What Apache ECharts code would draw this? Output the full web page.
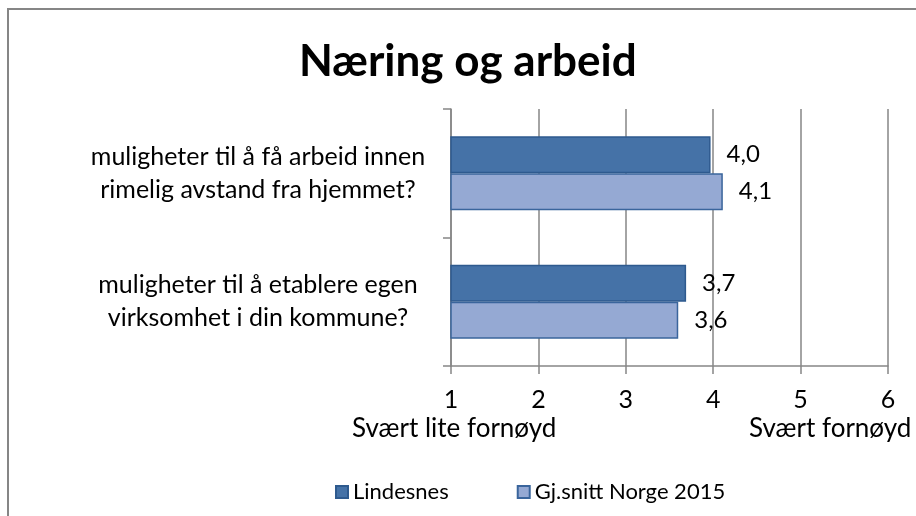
<!DOCTYPE html>
<html>
<head>
<meta charset="utf-8">
<script src="https://cdn.jsdelivr.net/npm/echarts@6/dist/echarts.min.js"></script>
<style>
  html,body{margin:0;padding:0;background:#fff;}
  #chart{width:916px;height:516px;}
</style>
</head>
<body>
<div id="chart"></div>
<script>
const categories=['muligheter til å få arbeid innen\nrimelig avstand fra hjemmet?','muligheter til å etablere egen\nvirksomhet i din kommune?'];
const lindesnes=[3.97,3.69];
const norge=[4.11,3.60];
const seriesNames=['Lindesnes','Gj.snitt Norge 2015'];
const xTicks=[1,2,3,4,5,6];

const FONT='Lato';
const grey='#868686';
const fmt=v=>v.toFixed(1).replace('.',',');

const chart=echarts.init(document.getElementById('chart'));

chart.setOption({
  animation:false,
  textStyle:{fontFamily:FONT,color:'#000'},
  title:{
    text:'Næring og arbeid',
    left:299,
    top:40,
    padding:0,
    textStyle:{fontFamily:FONT,fontWeight:'bold',fontSize:44,color:'#000'}
  },
  legend:{
    data:seriesNames,
    left:335,
    top:481,
    padding:0,
    itemWidth:12,
    itemHeight:12,
    itemGap:68,
    icon:'rect',
    textStyle:{fontFamily:FONT,fontSize:22,color:'#000'}
  },
  grid:{left:451,right:28,top:109,bottom:150},
  xAxis:{
    type:'value',
    min:1,
    max:6,
    interval:1,
    axisLine:{show:true,lineStyle:{color:grey,width:1.5}},
    axisTick:{show:true,length:8,lineStyle:{color:grey,width:1.5}},
    splitLine:{show:true,lineStyle:{color:grey,width:1.5}},
    axisLabel:{fontFamily:FONT,fontSize:25,color:'#000',margin:21,
      formatter:v=>xTicks.includes(v)?String(v):''}
  },
  yAxis:{
    type:'category',
    data:categories,
    inverse:true,
    axisLine:{show:true,lineStyle:{color:grey,width:1.5}},
    axisTick:{show:true,length:8,lineStyle:{color:grey,width:1.5}},
    axisLabel:{fontFamily:FONT,fontSize:25,lineHeight:33,color:'#000',align:'center',margin:193,padding:[4,0,0,0]}
  },
  series:[
    {
      name:seriesNames[0],
      type:'bar',
      data:lindesnes,
      barWidth:37,
      barGap:'0%',
      itemStyle:{color:'#4572A7',borderColor:'#2E5A8E',borderWidth:1.5},
      label:{show:true,position:'right',distance:16,fontFamily:FONT,fontSize:24,color:'#000',
        formatter:p=>fmt(p.value)}
    },
    {
      name:seriesNames[1],
      type:'bar',
      data:norge,
      barWidth:37,
      barGap:'0%',
      itemStyle:{color:'#95A9D3',borderColor:'#3A659C',borderWidth:1.5},
      label:{show:true,position:'right',distance:16,fontFamily:FONT,fontSize:24,color:'#000',
        formatter:p=>fmt(p.value)}
    }
  ],
  graphic:[
    {type:'rect',shape:{x:8,y:9,width:1000,height:1000},
      style:{fill:'none',stroke:grey,lineWidth:2},silent:true},
    {type:'text',left:352,top:416,
      style:{text:'Svært lite fornøyd',font:'26px Lato',fill:'#000'}},
    {type:'text',left:749,top:416,
      style:{text:'Svært fornøyd',font:'26px Lato',fill:'#000'}}
  ]
});
</script>
</body>
</html>
